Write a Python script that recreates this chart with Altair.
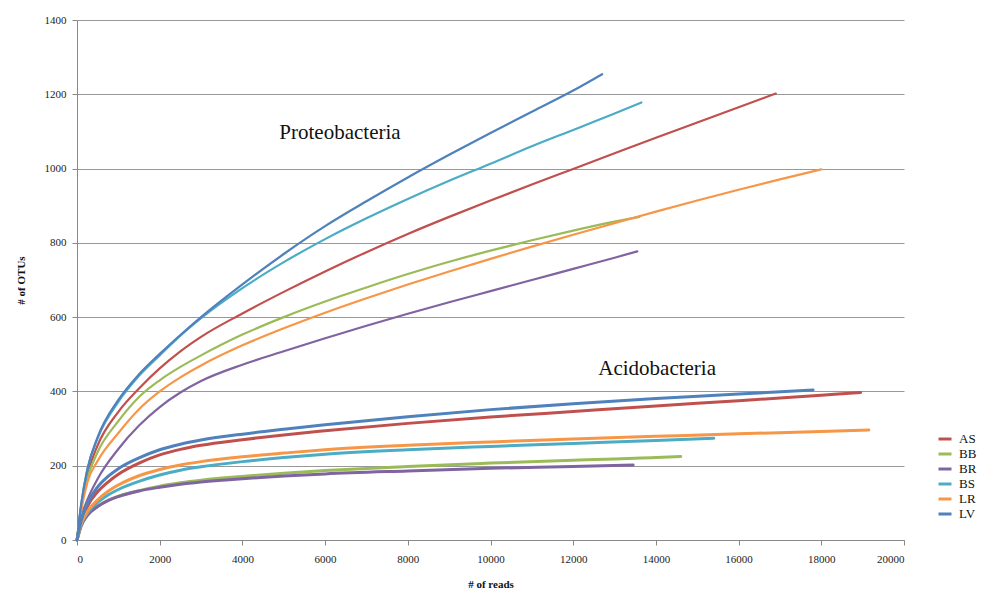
import altair as alt
import pandas as pd

SAMPLES = ["AS", "BB", "BR", "BS", "LR", "LV"]
COLORS = ["#C0504D", "#9BBB59", "#8064A2", "#4BACC6", "#F79646", "#4F81BD"]

# Proteobacteria rarefaction curves (reads, OTUs)
P_AS_X = [0, 100, 250, 500, 1000, 1500, 2000, 2500, 3000, 4000, 5000, 6000, 7000, 8000, 9000, 10000, 11000, 12000, 13000, 14000, 15000, 16000, 16900]
P_AS_Y = [0, 88, 175, 255, 345, 408, 462, 508, 547, 610, 668, 723, 775, 824, 870, 914, 957, 999, 1041, 1083, 1124, 1165, 1202]
P_BB_X = [0, 100, 250, 500, 1000, 1500, 2000, 2500, 3000, 4000, 5000, 6000, 7000, 8000, 9000, 10000, 11000, 12000, 13000, 13600]
P_BB_Y = [0, 85, 165, 237, 320, 385, 430, 466, 497, 553, 600, 642, 680, 716, 749, 779, 807, 833, 857, 870]
P_BR_X = [0, 100, 250, 500, 1000, 1500, 2000, 2500, 3000, 4000, 5000, 6000, 7000, 8000, 9000, 10000, 11000, 12000, 13000, 13550]
P_BR_Y = [0, 60, 108, 165, 245, 308, 358, 397, 428, 472, 508, 543, 577, 609, 640, 670, 700, 730, 760, 777]
P_BS_X = [0, 100, 250, 500, 1000, 1500, 2000, 2500, 3000, 4000, 5000, 6000, 7000, 8000, 9000, 10000, 11000, 12000, 13000, 13650]
P_BS_Y = [0, 95, 190, 274, 372, 442, 497, 550, 597, 678, 748, 810, 866, 918, 967, 1013, 1060, 1104, 1148, 1178]
P_LR_X = [0, 100, 250, 500, 1000, 1500, 2000, 2500, 3000, 4000, 5000, 6000, 7000, 8000, 9000, 10000, 11000, 12000, 13000, 14000, 15000, 16000, 17000, 18000]
P_LR_Y = [0, 78, 155, 213, 288, 352, 400, 438, 470, 524, 570, 612, 651, 688, 723, 757, 790, 822, 853, 884, 914, 943, 971, 998]
P_LV_X = [0, 100, 250, 500, 1000, 1500, 2000, 2500, 3000, 4000, 5000, 6000, 7000, 8000, 9000, 10000, 11000, 12000, 12700]
P_LV_Y = [0, 95, 190, 277, 377, 446, 501, 552, 600, 688, 770, 845, 912, 976, 1037, 1096, 1153, 1210, 1254]

# Acidobacteria rarefaction curves (reads, OTUs)
A_AS_X = [0, 100, 250, 500, 750, 1000, 1500, 2000, 2500, 3000, 4000, 5000, 6000, 8000, 10000, 12000, 14000, 16000, 18000, 18950]
A_AS_Y = [0, 48, 90, 130, 156, 177, 207, 229, 244, 255, 270, 283, 294, 314, 331, 346, 361, 375, 390, 397]
A_BB_X = [0, 100, 250, 500, 750, 1000, 1500, 2000, 2500, 3000, 4000, 5000, 6000, 8000, 10000, 12000, 14000, 14600]
A_BB_Y = [0, 38, 66, 91, 107, 118, 133, 145, 154, 161, 171, 180, 187, 198, 207, 215, 222, 225]
A_BR_X = [0, 100, 250, 500, 750, 1000, 1500, 2000, 2500, 3000, 4000, 5000, 6000, 8000, 10000, 12000, 13450]
A_BR_Y = [0, 38, 66, 90, 106, 117, 132, 142, 150, 156, 165, 172, 178, 186, 193, 198, 202]
A_BS_X = [0, 100, 250, 500, 750, 1000, 1500, 2000, 2500, 3000, 4000, 5000, 6000, 8000, 10000, 12000, 14000, 15400]
A_BS_Y = [0, 41, 72, 101, 121, 136, 158, 175, 188, 197, 211, 222, 231, 243, 252, 260, 268, 274]
A_LR_X = [0, 100, 250, 500, 750, 1000, 1500, 2000, 2500, 3000, 4000, 5000, 6000, 8000, 10000, 12000, 14000, 16000, 18000, 19150]
A_LR_Y = [0, 43, 76, 108, 131, 148, 173, 190, 202, 211, 224, 234, 243, 255, 264, 272, 279, 286, 292, 296]
A_LV_X = [0, 100, 250, 500, 750, 1000, 1500, 2000, 2500, 3000, 4000, 5000, 6000, 8000, 10000, 12000, 14000, 16000, 17800]
A_LV_Y = [0, 52, 98, 143, 171, 192, 221, 243, 258, 269, 285, 298, 310, 332, 351, 367, 381, 393, 404]

LABELS = ["Proteobacteria", "Acidobacteria"]
LABEL_X = [6360, 14030]
LABEL_Y = [1096, 460]

proteo = {"AS": (P_AS_X, P_AS_Y), "BB": (P_BB_X, P_BB_Y), "BR": (P_BR_X, P_BR_Y),
          "BS": (P_BS_X, P_BS_Y), "LR": (P_LR_X, P_LR_Y), "LV": (P_LV_X, P_LV_Y)}
acido = {"AS": (A_AS_X, A_AS_Y), "BB": (A_BB_X, A_BB_Y), "BR": (A_BR_X, A_BR_Y),
         "BS": (A_BS_X, A_BS_Y), "LR": (A_LR_X, A_LR_Y), "LV": (A_LV_X, A_LV_Y)}

rows = []
for phylum, d in (("Proteobacteria", proteo), ("Acidobacteria", acido)):
    for s in SAMPLES:
        xs, ys = d[s]
        for x, y in zip(xs, ys):
            rows.append({"phylum": phylum, "sample": s, "reads": x, "otus": y})
df = pd.DataFrame(rows)
lab = pd.DataFrame({"text": LABELS, "reads": LABEL_X, "otus": LABEL_Y})

xscale = alt.Scale(domain=[0, 20000], nice=False)
yscale = alt.Scale(domain=[0, 1400], nice=False)
color = alt.Color("sample:N", scale=alt.Scale(domain=SAMPLES, range=COLORS),
                  legend=alt.Legend(title=None, orient="none", legendX=860, legendY=411,
                                    symbolType="stroke", symbolSize=169, symbolStrokeWidth=3,
                                    labelFont="Liberation Serif", labelFontSize=13,
                                    labelColor="#111", rowPadding=0, labelOffset=6))

xenc = alt.X("reads:Q", scale=xscale, title="# of reads",
             axis=alt.Axis(values=list(range(0, 20001, 2000)), format="d", grid=False, tickSize=5,
                           labelPadding=8, titlePadding=14))
yenc = alt.Y("otus:Q", scale=yscale, title="# of OTUs",
             axis=alt.Axis(values=list(range(0, 1401, 200)), format="d", grid=True, tickSize=5,
                           labelPadding=6, titlePadding=18))

lines_p = alt.Chart(df[df.phylum == "Proteobacteria"]).mark_line(
    interpolate="monotone", strokeWidth=2.2, strokeCap="round"
).encode(x=xenc, y=yenc, color=color, detail="phylum:N")

lines_a = alt.Chart(df[df.phylum == "Acidobacteria"]).mark_line(
    interpolate="monotone", strokeWidth=3, strokeCap="round"
).encode(x="reads:Q", y="otus:Q", color="sample:N", detail="phylum:N")

texts = alt.Chart(lab).mark_text(font="Liberation Serif", fontSize=21, color="#111").encode(
    x="reads:Q", y="otus:Q", text="text:N")

chart = (lines_p + lines_a + texts).properties(
    width=827, height=520,
    autosize=alt.AutoSizeParams(type="none"),
    padding={"left": 69, "top": 12, "right": 80, "bottom": 50},
).configure_view(stroke=None).configure_axis(
    labelFont="Liberation Serif", labelFontSize=11, labelColor="#222",
    titleFont="Liberation Serif", titleFontSize=11, titleFontWeight="bold", titleColor="#111",
    domainColor="#888", tickColor="#888", gridColor="#999", gridWidth=1,
).configure_legend(symbolStrokeWidth=3)

chart.save("out.html", embed_options={"renderer": "svg", "actions": False})
